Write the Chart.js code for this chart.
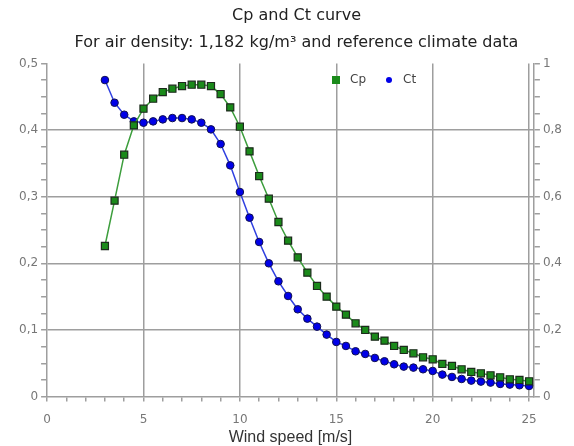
<!DOCTYPE html>
<html>
<head>
<meta charset="utf-8">
<script src="https://cdn.jsdelivr.net/npm/chart.js@4"></script>
<style>
  html, body { margin: 0; padding: 0; background: #fff; }
  #wrap { width: 574px; height: 446px; }
</style>
</head>
<body>
<div id="wrap"><canvas id="chart" width="574" height="446"></canvas></div>
<script>
// wind speeds [m/s], 3 to 25 in half steps
const windSpeed = [3, 3.5, 4, 4.5, 5, 5.5, 6, 6.5, 7, 7.5, 8, 8.5, 9, 9.5, 10, 10.5, 11, 11.5, 12, 12.5,
  13, 13.5, 14, 14.5, 15, 15.5, 16, 16.5, 17, 17.5, 18, 18.5, 19, 19.5, 20, 20.5, 21, 21.5, 22, 22.5,
  23, 23.5, 24, 24.5, 25];

// power coefficient (left axis)
const cpValues = [0.226, 0.294, 0.363, 0.407, 0.432, 0.447, 0.457, 0.462, 0.466, 0.468, 0.468, 0.466, 0.454, 0.434, 0.405, 0.368, 0.331, 0.297, 0.262, 0.234,
  0.209, 0.186, 0.166, 0.150, 0.135, 0.123, 0.110, 0.100, 0.090, 0.084, 0.076, 0.070, 0.065, 0.059, 0.056, 0.049, 0.046, 0.041, 0.037, 0.035,
  0.032, 0.029, 0.026, 0.025, 0.023];

// thrust coefficient (right axis)
const ctValues = [0.950, 0.882, 0.846, 0.826, 0.822, 0.826, 0.832, 0.836, 0.836, 0.832, 0.822, 0.802, 0.758, 0.694, 0.614, 0.537, 0.464, 0.400, 0.346, 0.302,
  0.262, 0.234, 0.210, 0.186, 0.164, 0.152, 0.136, 0.128, 0.116, 0.106, 0.097, 0.090, 0.087, 0.082, 0.077, 0.066, 0.059, 0.053, 0.048, 0.045,
  0.042, 0.038, 0.036, 0.034, 0.032];

const seriesNames = ['Cp', 'Ct'];
const titleLines = ['Cp and Ct curve', 'For air density: 1,182 kg/m\u00b3 and reference climate data'];
const xTitle = 'Wind speed [m/s]';

const gridGray = '#9e9e9e';
const isMult = (v, step) => Math.abs(Math.round(v / step) * step - v) < 1e-6;
const fmt = v => v === 0 ? '0' : String(Math.round(v * 10) / 10).replace('.', ',');

// titles in the original sit a little right of the canvas centre
const titleShift = {
  id: 'titleShift',
  afterLayout(chart) {
    chart.boxes.forEach(b => {
      if (b.position === 'top' && b.options && typeof b.options.text === 'string') {
        b.left += 6;
        b.right += 6;
      }
    });
  }
};

// legend drawn inside the plot, like the original
const innerLegend = {
  id: 'innerLegend',
  afterDraw(chart) {
    const ctx = chart.ctx;
    const y = 80;
    const items = [{ x: 336, ds: chart.data.datasets[0] }, { x: 389, ds: chart.data.datasets[1] }];
    ctx.save();
    ctx.font = '12px "DejaVu Sans"';
    ctx.textBaseline = 'middle';
    items.forEach(it => {
      ctx.fillStyle = it.ds.pointBackgroundColor;
      if (it.ds.pointStyle === 'rect') {
        ctx.fillRect(it.x - 4, y - 4, 8, 8);
      } else {
        ctx.beginPath();
        ctx.arc(it.x, y, 3, 0, Math.PI * 2);
        ctx.fill();
      }
      ctx.fillStyle = '#444';
      ctx.fillText(it.ds.label, it.x + 14, y);
    });
    ctx.restore();
  }
};

new Chart(document.getElementById('chart'), {
  type: 'line',
  data: {
    datasets: [
      {
        label: seriesNames[0],
        data: windSpeed.map((x, i) => ({ x: x, y: cpValues[i] })),
        yAxisID: 'y',
        borderColor: '#3d9e3d',
        borderWidth: 1.5,
        pointStyle: 'rect',
        pointRadius: 5,
        pointBackgroundColor: '#1a8a1a',
        pointBorderColor: '#1c2a1c',
        pointBorderWidth: 1.2,
        tension: 0
      },
      {
        label: seriesNames[1],
        data: windSpeed.map((x, i) => ({ x: x, y: ctValues[i] })),
        yAxisID: 'y1',
        borderColor: '#3040e0',
        borderWidth: 1.5,
        pointStyle: 'circle',
        pointRadius: 3.8,
        pointBackgroundColor: '#0000e8',
        pointBorderColor: '#101050',
        pointBorderWidth: 1,
        tension: 0
      }
    ]
  },
  plugins: [titleShift, innerLegend],
  options: {
    responsive: false,
    animation: false,
    layout: { padding: { left: 16, right: 9, top: 0, bottom: 0 } },
    plugins: {
      legend: { display: false },
      tooltip: { enabled: false },
      title: {
        display: true,
        text: titleLines[0],
        color: '#222',
        font: { family: 'DejaVu Sans', size: 16, weight: 'normal' },
        padding: { top: 6, bottom: 8 }
      },
      subtitle: {
        display: true,
        text: titleLines[1],
        color: '#222',
        font: { family: 'DejaVu Sans', size: 16, weight: 'normal' },
        padding: { top: 0, bottom: 11 }
      }
    },
    scales: {
      x: {
        type: 'linear',
        min: 0,
        max: 25.25,
        border: { color: gridGray, width: 1.5 },
        grid: {
          color: c => (c.tick && c.tick.value > 0 && isMult(c.tick.value, 5)) ? gridGray : 'rgba(0,0,0,0)',
          tickColor: gridGray,
          lineWidth: 1.5,
          tickLength: 5
        },
        ticks: {
          stepSize: 1,
          autoSkip: false,
          includeBounds: false,
          maxRotation: 0,
          padding: 11,
          color: '#777',
          font: { family: 'DejaVu Sans', size: 12 },
          callback: v => isMult(v, 5) ? String(v) : ''
        },
        title: {
          display: true,
          text: xTitle,
          color: '#333',
          font: { family: 'Liberation Sans', size: 16, lineHeight: 1 },
          padding: { top: -8, bottom: 0 }
        }
      },
      y: {
        type: 'linear',
        position: 'left',
        min: 0,
        max: 0.5,
        border: { color: gridGray, width: 1.5 },
        grid: {
          color: c => (c.tick && c.tick.value > 0 && c.tick.value < 0.49 && isMult(c.tick.value, 0.1)) ? gridGray : 'rgba(0,0,0,0)',
          tickColor: gridGray,
          lineWidth: 1.5,
          tickLength: 6
        },
        ticks: {
          stepSize: 0.025,
          autoSkip: false,
          color: '#777',
          font: { family: 'DejaVu Sans', size: 12 },
          callback: v => isMult(v, 0.1) ? fmt(v) : ''
        }
      },
      y1: {
        type: 'linear',
        position: 'right',
        min: 0,
        max: 1,
        border: { color: gridGray, width: 1.5 },
        grid: {
          drawOnChartArea: false,
          tickColor: gridGray,
          lineWidth: 1.5,
          tickLength: 6
        },
        ticks: {
          stepSize: 0.05,
          autoSkip: false,
          color: '#777',
          font: { family: 'DejaVu Sans', size: 12 },
          callback: v => isMult(v, 0.2) ? fmt(v) : ''
        }
      }
    }
  }
});
</script>
</body>
</html>
